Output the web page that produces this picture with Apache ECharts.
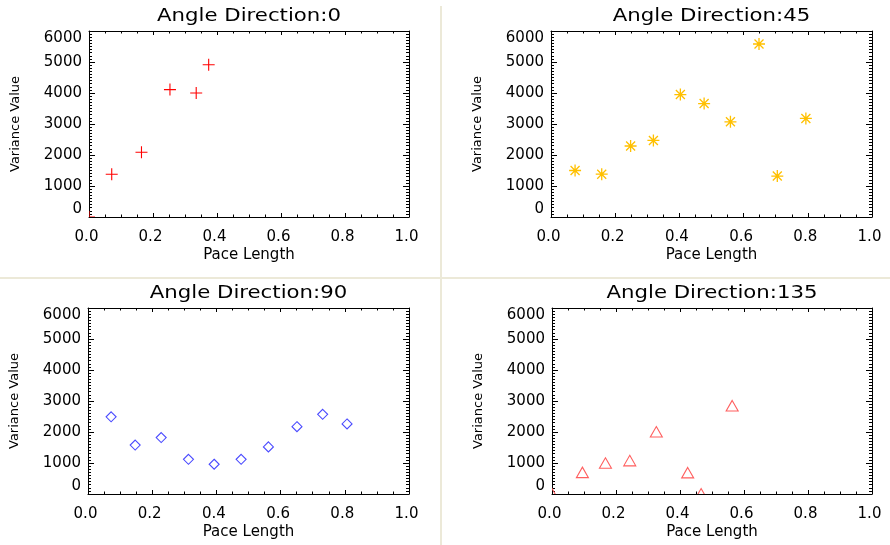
<!DOCTYPE html>
<html>
<head>
<meta charset="utf-8">
<script src="https://cdn.jsdelivr.net/npm/echarts@6/dist/echarts.min.js"></script>
<style>
  html, body { margin: 0; padding: 0; background: #ffffff; }
  #chart { width: 890px; height: 545px; }
</style>
</head>
<body>
<div id="chart"></div>
<script>
// Variance of the texture measure against pace length, one panel per direction
const directionTitles = ['Angle Direction:0', 'Angle Direction:45', 'Angle Direction:90', 'Angle Direction:135'];

const pace0 = [0, 0.071, 0.164, 0.253, 0.335, 0.374];
const variance0 = [0, 1380, 2090, 4110, 4000, 4910];

const pace45 = [0.075, 0.158, 0.248, 0.319, 0.403, 0.477, 0.559, 0.648, 0.705, 0.794];
const variance45 = [1500, 1380, 2290, 2470, 3950, 3660, 3070, 5580, 1320, 3180];

const pace90 = [0.072, 0.147, 0.228, 0.313, 0.393, 0.477, 0.562, 0.651, 0.731, 0.807];
const variance90 = [2490, 1580, 1820, 1120, 960, 1120, 1520, 2170, 2570, 2260];

const pace135 = [0, 0.095, 0.167, 0.243, 0.326, 0.424, 0.466, 0.563];
const variance135 = [0, 690, 990, 1070, 2000, 680, 0, 2840];

// axis ranges and tick steps
const paceMin = 0, paceMax = 1, paceStep = 0.2;
const varianceMin = 0, varianceMax = 6000, varianceStep = 1000;

const xTitle = 'Pace Length';
const yTitle = 'Variance Value';

const panels = [
  { title: directionTitles[0], x: pace0, y: variance0, symbol: 'plus', color: '#ff0000' },
  { title: directionTitles[1], x: pace45, y: variance45, symbol: 'asterisk', color: '#ffc000' },
  { title: directionTitles[2], x: pace90, y: variance90, symbol: 'diamond', color: '#4a4aff' },
  { title: directionTitles[3], x: pace135, y: variance135, symbol: 'triangle', color: '#ff5f5f' }
];

const gridBoxes = [
  { left: 89, top: 31, width: 320, height: 186 },
  { left: 551, top: 31, width: 321, height: 186 },
  { left: 88, top: 308, width: 321, height: 186 },
  { left: 552, top: 308, width: 320, height: 186 }
];

const FONT = '"DejaVu Sans", "Liberation Sans", sans-serif';
const INK = '#000000';

// outline of each plot symbol around its centre (cx, cy)
function symbolPath(kind, cx, cy) {
  const p = (dx, dy) => (cx + dx) + ',' + (cy + dy);
  switch (kind) {
    case 'plus':
      return 'M' + p(-6, 0) + 'L' + p(6, 0) + 'M' + p(0, -6) + 'L' + p(0, 6);
    case 'asterisk':
      return 'M' + p(-6, 0) + 'L' + p(6, 0) + 'M' + p(0, -6) + 'L' + p(0, 6) +
             'M' + p(-4.5, -4.5) + 'L' + p(4.5, 4.5) + 'M' + p(-4.5, 4.5) + 'L' + p(4.5, -4.5);
    case 'diamond':
      return 'M' + p(0, -5) + 'L' + p(5, 0) + 'L' + p(0, 5) + 'L' + p(-5, 0) + 'Z';
    case 'triangle':
      return 'M' + p(0, -5.5) + 'L' + p(6, 5) + 'L' + p(-6, 5) + 'Z';
  }
  return '';
}

function makeRenderer(kind, color) {
  return function (params, api) {
    const pt = api.coord([api.value(0), api.value(1)]);
    const children = [{
      type: 'path',
      shape: { pathData: symbolPath(kind, pt[0], pt[1]) },
      style: { stroke: color, fill: 'none', lineWidth: kind === 'asterisk' ? 1.3 : 1.1 }
    }];
    if (kind === 'asterisk') {
      children.push({ type: 'circle', shape: { cx: pt[0], cy: pt[1], r: 1.6 }, style: { fill: color } });
    }
    return { type: 'group', children: children };
  };
}

const grid = [], xAxis = [], yAxis = [], series = [], graphic = [];

const tickLine = { color: INK, width: 1 };

panels.forEach(function (pn, i) {
  const g = gridBoxes[i];
  grid.push(Object.assign({ outerBoundsMode: 'none', containLabel: false }, g));

  // bottom axis with labels
  xAxis.push({
    type: 'value', gridIndex: i, position: 'bottom',
    min: paceMin, max: paceMax, interval: paceStep,
    axisLine: { show: true, onZero: false, lineStyle: { color: INK, width: 1 } },
    axisTick: { show: true, inside: true, length: 4, lineStyle: tickLine },
    minorTick: { show: true, splitNumber: 4, length: 2.5, lineStyle: tickLine },
    splitLine: { show: false },
    axisLabel: {
      show: true, margin: 13, fontFamily: FONT, fontSize: 15, color: INK,
      padding: [0, 5, 0, 0],
      formatter: function (v) { return v.toFixed(1); }
    },
    name: xTitle, nameLocation: 'middle', nameGap: 31,
    nameTextStyle: { fontFamily: FONT, fontSize: 15, color: INK }
  });
  // top edge of the box
  xAxis.push({
    type: 'value', gridIndex: i, position: 'top',
    min: paceMin, max: paceMax, interval: paceStep,
    axisLine: { show: true, onZero: false, lineStyle: { color: INK, width: 1 } },
    axisTick: { show: true, inside: true, length: 4, lineStyle: tickLine },
    minorTick: { show: true, splitNumber: 4, length: 2.5, lineStyle: tickLine },
    splitLine: { show: false },
    axisLabel: { show: false }
  });

  // left axis with labels
  yAxis.push({
    type: 'value', gridIndex: i, position: 'left',
    min: varianceMin, max: varianceMax, interval: varianceStep,
    axisLine: { show: true, onZero: false, lineStyle: { color: INK, width: 1 } },
    axisTick: { show: true, inside: true, length: 6, lineStyle: tickLine },
    minorTick: { show: true, splitNumber: 10, length: 3, lineStyle: tickLine },
    splitLine: { show: false },
    axisLabel: {
      show: true, margin: 7, fontFamily: FONT, fontSize: 15, color: INK,
      verticalAlignMinLabel: 'bottom', verticalAlignMaxLabel: 'top',
      formatter: function (v) { return String(v); }
    },
    name: yTitle, nameLocation: 'middle', nameGap: 67, nameRotate: 90,
    nameTextStyle: { fontFamily: FONT, fontSize: 13, color: INK }
  });
  // right edge of the box
  yAxis.push({
    type: 'value', gridIndex: i, position: 'right',
    min: varianceMin, max: varianceMax, interval: varianceStep,
    axisLine: { show: true, onZero: false, lineStyle: { color: INK, width: 1 } },
    axisTick: { show: true, inside: true, length: 6, lineStyle: tickLine },
    minorTick: { show: true, splitNumber: 10, length: 3, lineStyle: tickLine },
    splitLine: { show: false },
    axisLabel: { show: false }
  });

  series.push({
    type: 'custom',
    coordinateSystem: 'cartesian2d',
    xAxisIndex: 2 * i, yAxisIndex: 2 * i,
    clip: true, silent: true, z: 5,
    data: pn.x.map(function (x, k) { return [x, pn.y[k]]; }),
    renderItem: makeRenderer(pn.symbol, pn.color)
  });

  // panel title, drawn wide like the plotting package's stroke font
  graphic.push({
    type: 'text',
    x: g.left + g.width / 2,
    y: g.top - 14,
    scaleX: 1.25,
    style: {
      text: pn.title, font: '17px ' + FONT, fill: INK,
      align: 'center', verticalAlign: 'middle'
    }
  });
});

// window frame separators between the four panels
graphic.push({ type: 'rect', shape: { x: 440, y: 6, width: 2, height: 539 }, style: { fill: '#ece9d8' }, z: -1 });
graphic.push({ type: 'rect', shape: { x: 0, y: 277, width: 890, height: 2 }, style: { fill: '#ece9d8' }, z: -1 });

const chart = echarts.init(document.getElementById('chart'), null, { renderer: 'canvas' });
chart.setOption({
  backgroundColor: '#ffffff',
  animation: false,
  grid: grid,
  xAxis: xAxis,
  yAxis: yAxis,
  series: series,
  graphic: graphic
});
</script>
</body>
</html>
